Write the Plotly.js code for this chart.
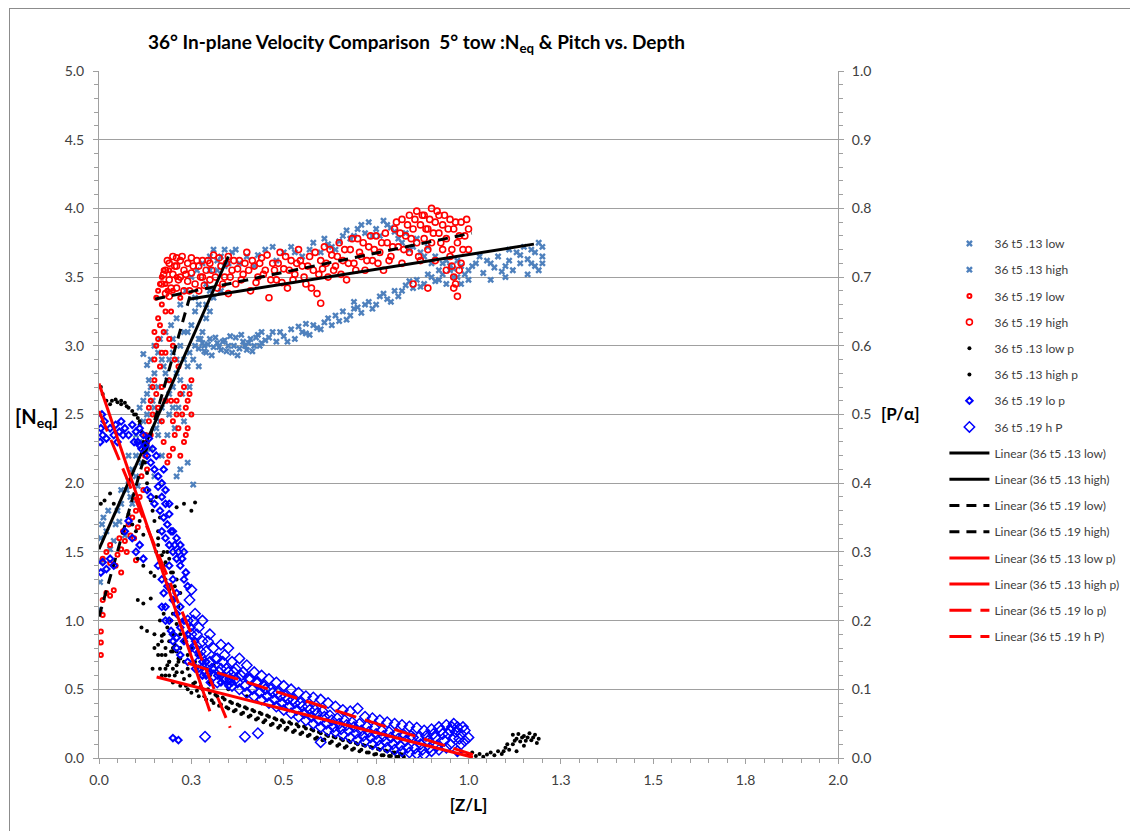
<!DOCTYPE html>
<html>
<head>
<meta charset="utf-8">
<script src="https://cdn.plot.ly/plotly-3.0.1.min.js"></script>
<style>
  html, body { margin: 0; padding: 0; background: #fff; }
  #chart { width: 1130px; height: 831px; }
  #frame { position: absolute; left: 9px; top: 8px; width: 1200px; height: 900px; border: 1px solid #8c8c8c; pointer-events: none; }
</style>
</head>
<body>
<div id="chart"></div>
<div id="frame"></div>
<script>
// ---- tick labels ----
const xTickVals = [0, 0.25, 0.5, 0.75, 1.0, 1.25, 1.5, 1.75, 2.0];
const xTickText = ['0.0', '0.3', '0.5', '0.8', '1.0', '1.3', '1.5', '1.8', '2.0'];
const yTickVals = [0, 0.5, 1.0, 1.5, 2.0, 2.5, 3.0, 3.5, 4.0, 4.5, 5.0];
const y2TickVals = [0, 0.1, 0.2, 0.3, 0.4, 0.5, 0.6, 0.7, 0.8, 0.9, 1.0];

// ---- series names ----
const seriesNames = ['36 t5 .13 low', '36 t5 .13 high', '36 t5 .19 low', '36 t5 .19 high',
                     '36 t5 .13 low p', '36 t5 .13 high p', '36 t5 .19 lo p', '36 t5 .19 h P'];

// ---- Neq vs Z/L  ([x, Neq]) ----
const s13low = [[0.003,1.08],[0.003,1.28],[0.003,1.43],[0.01,1.44],[0.005,1.6],[0.008,1.7],[0.012,1.75],[0.02,1.65],[0.025,1.8],[0.03,1.52],
 [0.04,1.58],[0.045,1.7],[0.055,1.72],[0.06,1.85],[0.07,1.62],[0.075,1.95],[0.08,2.02],[0.085,1.9],[0.09,2.1],[0.1,2.05],
 [0.1,2.2],[0.105,1.98],[0.11,2.3],[0.115,2.15],[0.12,2.45],[0.12,2.6],[0.12,2.94],[0.125,2.35],[0.13,2.5],[0.13,2.86],[0.135,2.75],[0.14,2.9],
 [0.14,2.25],[0.145,2.6],[0.15,2.8],[0.15,3.0],[0.15,2.05],[0.155,2.4],[0.16,2.95],[0.16,2.7],[0.165,3.05],[0.17,2.55],[0.17,2.2],[0.175,2.85],
 [0.18,2.6],[0.18,3.1],[0.185,2.35],[0.19,2.9],[0.19,2.5],[0.195,3.15],[0.2,2.7],[0.2,2.95],[0.205,2.4],[0.21,3.2],[0.21,2.8],[0.21,2.05],
 [0.215,2.55],[0.22,3.0],[0.22,3.3],[0.22,2.1],[0.225,2.65],[0.23,2.9],[0.235,3.4],[0.24,2.15],[0.24,3.1],[0.245,2.7],[0.25,3.5],[0.255,1.99],
 [0.255,2.9],[0.26,3.25],[0.265,3.55],[0.27,3.05],[0.27,2.85],[0.28,3.6],[0.285,3.0],[0.29,3.2],[0.3,3.65],[0.3,3.4],[0.31,3.7],[0.32,3.55],
 [0.33,3.65],[0.34,3.7],[0.35,3.6],[0.11,2.55],[0.165,2.45],[0.185,2.75],[0.2,3.05],[0.23,2.45],[0.245,2.95],[0.26,3.35],
 [0.13,2.65],[0.14,2.7],[0.15,2.55],[0.16,2.35],[0.17,2.9],[0.18,2.8],[0.19,2.65],[0.2,2.55],[0.21,2.9],[0.22,2.75],[0.23,3.1],
 [0.24,2.85],[0.25,3.15],[0.26,3.0],[0.27,3.3],[0.28,3.1],[0.29,3.45],[0.3,3.25],[0.06,1.95],[0.08,2.2],[0.1,2.35],[0.09,1.85],[0.05,1.8]];

const s13high = [[0.27,2.98],[0.28,3.02],[0.29,2.95],[0.3,3.05],[0.31,2.99],[0.32,3.02],[0.33,2.97],[0.34,3.04],[0.35,3.0],[0.36,2.95],
 [0.37,3.06],[0.38,2.98],[0.39,3.03],[0.4,2.97],[0.41,3.05],[0.42,3.0],[0.43,3.08],[0.44,3.02],[0.45,3.04],[0.47,3.1],[0.48,3.03],
 [0.5,3.07],[0.52,3.12],[0.53,3.05],[0.55,3.1],[0.57,3.08],[0.58,3.15],[0.6,3.12],[0.62,3.2],[0.63,3.15],[0.65,3.18],[0.66,3.25],
 [0.68,3.22],[0.7,3.28],[0.71,3.24],[0.73,3.32],[0.75,3.3],[0.76,3.36],[0.78,3.34],[0.8,3.4],[0.81,3.36],[0.83,3.44],[0.85,3.42],
 [0.86,3.48],[0.88,3.45],[0.9,3.5],[0.91,3.47],[0.93,3.52],[0.95,3.55],[0.97,3.5],[0.98,3.58],[1.0,3.55],[1.02,3.6],[1.04,3.53],
 [1.05,3.62],[1.07,3.57],[1.08,3.65],[1.1,3.58],[1.11,3.62],[1.12,3.55],[1.13,3.68],[1.14,3.6],[1.15,3.72],[1.16,3.63],[1.17,3.7],
 [1.18,3.58],[1.19,3.75],[1.2,3.65],[1.2,3.6],[1.19,3.55],[1.16,3.52],[1.1,3.5],[1.06,3.48],
 [0.3,3.55],[0.32,3.62],[0.34,3.58],[0.36,3.68],[0.38,3.6],[0.4,3.65],[0.42,3.58],[0.45,3.7],[0.48,3.62],[0.5,3.68],[0.52,3.72],
 [0.55,3.65],[0.58,3.75],[0.6,3.68],[0.62,3.74],[0.64,3.7],[0.66,3.8],[0.68,3.78],[0.7,3.85],[0.72,3.82],[0.73,3.9],[0.75,3.85],
 [0.76,3.8],[0.77,3.91],[0.78,3.88],[0.8,3.83],[0.82,3.75],[0.84,3.7],[0.86,3.78],[0.88,3.65],[0.9,3.6],[0.92,3.55],[0.94,3.62],
 [0.96,3.5],[0.98,3.45],[1.0,3.48],[0.31,3.35],[0.33,3.4],[0.29,3.3],[0.44,3.1],[0.56,3.16],[0.69,3.32],
 [0.275,3.05],[0.285,2.96],[0.295,3.01],[0.305,2.93],[0.315,3.06],[0.325,2.99],[0.335,3.03],[0.345,2.96],[0.355,3.07],[0.365,3.0],
 [0.375,2.93],[0.385,3.08],[0.395,3.0],[0.405,3.02],[0.415,2.96],[0.425,3.06],[0.435,3.0],[0.46,3.06],[0.49,3.1],[0.51,3.03],
 [0.54,3.14],[0.56,3.09],[0.59,3.13],[0.61,3.17],[0.64,3.22],[0.67,3.19],[0.69,3.27],[0.72,3.3],[0.74,3.27],[0.77,3.38],[0.79,3.32],
 [0.82,3.4],[0.84,3.47],[0.87,3.43],[0.89,3.52],[0.92,3.48],[0.94,3.45],[0.96,3.56],[0.99,3.52],[1.01,3.58],[1.03,3.65],[1.06,3.6],
 [1.09,3.54],[1.11,3.7],[1.14,3.66],[1.17,3.6],[1.18,3.68],[1.2,3.72],
 [0.35,3.6],[0.37,3.7],[0.43,3.66],[0.47,3.72],[0.53,3.68],[0.57,3.7],[0.61,3.78],[0.63,3.72],[0.65,3.76],[0.67,3.84],[0.69,3.8],
 [0.71,3.88],[0.74,3.8],[0.79,3.86],[0.81,3.78],[0.83,3.82],[0.85,3.72],[0.87,3.68],[0.89,3.72],[0.91,3.65],[0.93,3.6],[0.95,3.58],[0.97,3.62]];

const s19low = [[0.005,0.75],[0.005,0.84],[0.005,0.92],[0.01,1.04],[0.01,1.15],[0.02,1.2],[0.03,1.18],[0.04,1.22],[0.01,1.45],[0.02,1.5],
 [0.03,1.55],[0.045,1.4],[0.05,1.48],[0.055,1.6],[0.06,1.52],[0.065,1.65],[0.07,1.58],[0.08,1.7],[0.085,1.62],[0.09,1.75],[0.1,1.44],
 [0.1,1.8],[0.105,1.68],[0.11,1.9],[0.115,2.05],[0.12,1.95],[0.125,2.2],[0.13,2.3],[0.13,2.1],[0.135,2.45],[0.14,2.35],[0.14,2.6],
 [0.145,2.5],[0.15,2.75],[0.15,2.9],[0.155,2.65],[0.16,3.05],[0.16,3.2],[0.165,2.85],[0.17,2.45],[0.17,3.3],[0.175,3.1],[0.175,2.3],
 [0.18,2.6],[0.18,2.95],[0.185,3.4],[0.19,2.2],[0.19,2.75],[0.195,3.25],[0.2,2.45],[0.2,3.0],[0.205,2.35],[0.21,2.6],[0.21,3.5],
 [0.215,2.85],[0.22,2.2],[0.22,3.35],[0.225,2.5],[0.23,2.3],[0.23,2.7],[0.235,2.55],[0.24,2.4],[0.245,2.65],[0.25,2.75],[0.25,2.5],
 [0.165,3.45],[0.175,3.55],[0.185,2.15],[0.2,2.25],[0.215,2.4],[0.155,3.35],[0.17,2.7],[0.16,2.55],
 [0.155,3.0],[0.165,3.15],[0.17,2.95],[0.18,3.25],[0.19,3.05],[0.195,2.6],[0.205,2.9],[0.21,2.5],[0.22,2.65],[0.235,2.35],[0.24,2.6],
 [0.145,2.7],[0.135,2.55],[0.125,2.35],[0.15,3.1],[0.16,3.4],[0.17,3.5],[0.2,3.4],[0.19,3.55],[0.18,3.45],[0.03,1.42],[0.06,1.35],
 [0.075,1.5],[0.095,1.6]];

const s19high = [[0.17,3.45],[0.18,3.55],[0.18,3.38],[0.19,3.6],[0.19,3.48],[0.2,3.52],[0.2,3.65],[0.21,3.42],[0.21,3.58],[0.22,3.5],
 [0.22,3.62],[0.23,3.55],[0.23,3.4],[0.24,3.6],[0.24,3.47],[0.25,3.53],[0.25,3.64],[0.26,3.45],[0.27,3.58],[0.28,3.5],[0.28,3.62],
 [0.29,3.55],[0.3,3.48],[0.3,3.6],[0.31,3.66],[0.32,3.42],[0.33,3.58],[0.34,3.5],[0.35,3.65],[0.36,3.55],[0.37,3.45],[0.38,3.62],
 [0.39,3.52],[0.4,3.68],[0.41,3.4],[0.42,3.58],[0.43,3.5],[0.44,3.64],[0.45,3.55],[0.46,3.35],[0.47,3.6],[0.48,3.48],[0.49,3.68],
 [0.5,3.56],[0.51,3.42],[0.52,3.62],[0.53,3.52],[0.54,3.7],[0.55,3.58],[0.56,3.45],[0.57,3.65],[0.58,3.55],[0.59,3.38],[0.6,3.62],
 [0.6,3.31],[0.61,3.72],[0.62,3.5],[0.63,3.66],[0.64,3.58],[0.65,3.75],[0.66,3.62],[0.67,3.48],[0.68,3.7],[0.69,3.6],[0.7,3.78],
 [0.71,3.65],[0.72,3.55],[0.73,3.72],[0.74,3.62],[0.75,3.8],[0.76,3.68],[0.77,3.55],[0.78,3.75],[0.79,3.65],[0.8,3.85],
 [0.81,3.72],[0.82,3.92],[0.82,3.6],[0.83,3.8],[0.84,3.95],[0.84,3.68],[0.85,3.85],[0.86,3.75],[0.86,3.98],[0.87,3.62],[0.87,3.88],
 [0.88,3.78],[0.88,3.95],[0.89,3.7],[0.89,3.85],[0.9,4.0],[0.9,3.75],[0.91,3.9],[0.91,3.62],[0.92,3.82],[0.92,3.95],[0.93,3.7],
 [0.93,3.88],[0.94,3.78],[0.94,3.55],[0.95,3.92],[0.95,3.65],[0.96,3.85],[0.96,3.5],[0.96,3.42],[0.97,3.75],[0.97,3.36],[0.98,3.9],
 [0.98,3.6],[0.99,3.8],[1.0,3.7],[1.0,3.85],[0.89,3.42],[0.85,3.45],[0.19,3.36],[0.21,3.64],[0.27,3.4],[0.35,3.38],
 [0.175,3.52],[0.185,3.62],[0.195,3.42],[0.205,3.58],[0.215,3.48],[0.225,3.65],[0.235,3.52],[0.245,3.4],[0.255,3.58],[0.265,3.62],
 [0.275,3.5],[0.285,3.44],[0.295,3.62],[0.305,3.55],[0.315,3.5],[0.325,3.64],[0.335,3.45],[0.345,3.6],[0.355,3.5],[0.365,3.62],
 [0.375,3.56],[0.385,3.48],[0.395,3.6],[0.405,3.55],[0.415,3.62],[0.425,3.46],[0.435,3.6],[0.445,3.52],[0.455,3.66],[0.465,3.48],
 [0.475,3.55],[0.485,3.6],[0.495,3.46],[0.505,3.65],[0.515,3.55],[0.525,3.48],[0.535,3.6],[0.545,3.62],[0.555,3.5],[0.565,3.58],
 [0.575,3.42],[0.585,3.68],[0.595,3.52],[0.605,3.56],[0.615,3.6],[0.625,3.7],[0.635,3.55],[0.645,3.65],[0.655,3.52],[0.665,3.7],
 [0.675,3.6],[0.685,3.78],[0.695,3.55],[0.705,3.68],[0.715,3.75],[0.725,3.62],[0.735,3.8],[0.745,3.7],[0.755,3.6],[0.765,3.75],
 [0.775,3.82],[0.785,3.62],[0.795,3.72],[0.805,3.9],[0.815,3.82],[0.825,3.7],[0.835,3.88],[0.845,3.78],[0.855,3.92],[0.865,3.65],
 [0.875,3.95],[0.885,3.85],[0.895,3.92],[0.905,3.82],[0.915,3.98],[0.925,3.75],[0.935,3.95],[0.945,3.85],[0.955,3.7],[0.965,3.9],
 [0.975,3.8],[0.985,3.7],[0.995,3.92],[0.965,3.45],[0.975,3.55],[0.955,3.58]];

// ---- Pitch vs Z/L  ([x, P/alpha]) ----
const s13lowP = [[0.005,0.54],[0.01,0.53],[0.02,0.52],[0.03,0.515],[0.035,0.52],[0.045,0.522],[0.05,0.518],[0.06,0.515],[0.07,0.517],
 [0.08,0.51],[0.09,0.505],[0.1,0.5],[0.105,0.495],[0.11,0.485],[0.115,0.475],[0.12,0.46],[0.12,0.445],[0.125,0.43],[0.13,0.415],
 [0.13,0.4],[0.135,0.39],[0.14,0.375],[0.145,0.36],[0.15,0.345],[0.155,0.38],[0.16,0.33],[0.165,0.35],
 [0.005,0.37],[0.015,0.375],[0.03,0.385],[0.04,0.37],[0.08,0.355],[0.09,0.34],[0.1,0.33],[0.11,0.345],[0.12,0.325],
 [0.21,0.365],[0.23,0.37],[0.25,0.36],[0.26,0.372],
 [0.105,0.29],[0.12,0.28],[0.14,0.27],[0.15,0.265],[0.105,0.23],[0.12,0.225],[0.14,0.232],[0.115,0.19],[0.13,0.185],[0.15,0.18],
 [0.17,0.178],[0.16,0.31],[0.17,0.295],[0.175,0.28],[0.18,0.26],[0.185,0.3],[0.19,0.245],[0.195,0.27],[0.2,0.23],[0.2,0.21],
 [0.205,0.25],[0.21,0.195],[0.215,0.22],[0.22,0.18],[0.225,0.2],[0.16,0.165],[0.17,0.15],[0.18,0.16],[0.19,0.14],[0.2,0.155],
 [0.21,0.135],[0.145,0.13],[0.15,0.16],[0.23,0.17],[0.24,0.15],[0.25,0.16],[0.26,0.14],[0.27,0.15],[0.28,0.13],[0.3,0.12],[0.31,0.135],
 [0.165,0.2],[0.175,0.21],[0.185,0.19],[0.195,0.2],[0.19,0.17],[0.2,0.18],[0.205,0.165],[0.21,0.155],[0.22,0.16],[0.215,0.145],
 [0.23,0.14],[0.18,0.13],[0.19,0.12],[0.2,0.13],[0.17,0.12],[0.06,0.52],[0.075,0.512],[0.095,0.5],[0.11,0.49],[0.155,0.3],
 [0.16,0.32],[0.175,0.3],[0.18,0.285],[0.19,0.29],[0.2,0.27],[0.21,0.26],[0.22,0.24]];

const s13highP = [[0.17,0.17],[0.18,0.15],[0.18,0.12],[0.19,0.14],[0.2,0.11],[0.2,0.16],[0.21,0.125],[0.22,0.105],[0.22,0.145],
 [0.23,0.115],[0.24,0.1],[0.24,0.13],[0.25,0.095],[0.26,0.11],[0.27,0.09],[0.28,0.1],[0.29,0.085],[0.3,0.095],[0.31,0.08],[0.32,0.09],
 [0.33,0.078],[0.34,0.085],[0.35,0.072],[0.36,0.08],[0.37,0.07],[0.38,0.076],[0.39,0.066],[0.4,0.072],[0.41,0.062],[0.42,0.068],
 [0.43,0.058],[0.44,0.064],[0.45,0.055],[0.46,0.06],[0.47,0.05],[0.48,0.056],[0.49,0.047],[0.5,0.052],[0.51,0.044],[0.52,0.05],
 [0.53,0.04],[0.54,0.046],[0.55,0.037],[0.56,0.043],[0.57,0.034],[0.58,0.04],[0.59,0.03],[0.6,0.036],[0.61,0.027],[0.62,0.032],
 [0.63,0.024],[0.64,0.03],[0.65,0.02],[0.66,0.026],[0.67,0.017],[0.68,0.023],[0.69,0.014],[0.7,0.02],[0.71,0.012],[0.72,0.018],
 [0.73,0.008],[0.74,0.015],[0.75,0.006],[0.76,0.012],[0.77,0.004],[0.78,0.01],[0.79,0.003],[0.8,0.008],[0.81,0.002],[0.82,0.005],
 [0.97,0.005],[0.98,0.01],[1.0,0.004],[1.01,0.008],[1.02,0.003],[1.03,0.006],[1.04,0.002],[1.05,0.005],[1.06,0.008],[1.07,0.004],
 [1.08,0.01],[1.09,0.006],[1.1,0.015],[1.11,0.012],[1.12,0.02],[1.13,0.028],[1.14,0.024],[1.15,0.032],[1.16,0.03],[1.17,0.026],
 [1.18,0.034],[1.15,0.018],[1.13,0.01],[1.12,0.034],[0.3,0.11],[0.35,0.1],[0.4,0.09],
 [0.16,0.15],[0.165,0.13],[0.175,0.18],[0.185,0.135],[0.195,0.155],[0.205,0.12],[0.215,0.14],[0.225,0.125],[0.235,0.105],
 [0.245,0.12],[0.255,0.108],[0.265,0.098],[0.275,0.104],[0.285,0.09],[0.295,0.1],[0.305,0.084],[0.315,0.092],[0.325,0.076],
 [0.335,0.088],[0.345,0.074],[0.355,0.082],[0.365,0.068],[0.375,0.078],[0.385,0.064],[0.395,0.074],[0.405,0.06],[0.415,0.07],
 [0.425,0.056],[0.435,0.066],[0.445,0.052],[0.455,0.062],[0.465,0.048],[0.475,0.058],[0.485,0.044],[0.495,0.055],[0.505,0.041],
 [0.515,0.052],[0.525,0.038],[0.535,0.049],[0.545,0.035],[0.555,0.046],[0.565,0.032],[0.575,0.042],[0.585,0.028],[0.595,0.038],
 [0.605,0.026],[0.615,0.034],[0.625,0.022],[0.635,0.031],[0.645,0.018],[0.655,0.028],[0.665,0.015],[0.675,0.025],[0.685,0.012],
 [0.695,0.022],[0.705,0.01],[0.715,0.019],[0.725,0.008],[0.735,0.016],[0.745,0.005],[0.755,0.013],[0.765,0.004],[0.775,0.011],
 [0.785,0.003],[0.795,0.008],[0.805,0.002],[0.815,0.006],[0.825,0.002],
 [1.095,0.01],[1.105,0.02],[1.125,0.025],[1.135,0.035],[1.145,0.03],[1.155,0.025],[1.165,0.036],[1.175,0.03],[1.185,0.022],[1.19,0.028]];

const s19loP = [[0.003,0.46],[0.005,0.48],[0.008,0.5],[0.01,0.47],[0.015,0.49],[0.02,0.465],[0.03,0.48],[0.04,0.47],[0.045,0.485],
 [0.055,0.475],[0.06,0.49],[0.07,0.48],[0.08,0.47],[0.09,0.485],[0.1,0.475],[0.105,0.46],[0.11,0.48],[0.115,0.45],[0.12,0.47],
 [0.125,0.455],[0.13,0.44],[0.135,0.465],[0.14,0.43],[0.145,0.45],[0.15,0.42],[0.155,0.44],[0.16,0.41],[0.13,0.39],[0.14,0.38],
 [0.15,0.37],[0.16,0.395],[0.165,0.36],[0.17,0.38],[0.175,0.35],[0.18,0.37],[0.185,0.34],[0.19,0.355],[0.17,0.33],[0.18,0.32],
 [0.19,0.31],[0.2,0.33],[0.2,0.3],[0.21,0.32],[0.21,0.29],[0.22,0.31],[0.22,0.28],[0.23,0.3],[0.235,0.27],[0.16,0.28],[0.17,0.26],
 [0.175,0.24],[0.18,0.22],[0.185,0.25],[0.19,0.2],[0.2,0.23],[0.2,0.18],[0.21,0.21],[0.21,0.16],[0.22,0.19],[0.22,0.15],[0.23,0.17],
 [0.24,0.14],[0.25,0.16],[0.26,0.13],[0.27,0.15],[0.28,0.12],[0.29,0.14],[0.3,0.11],[0.31,0.13],[0.32,0.12],[0.33,0.11],
 [0.34,0.115],[0.35,0.105],[0.36,0.11],[0.005,0.27],[0.01,0.285],[0.02,0.275],[0.03,0.29],[0.04,0.28],[0.07,0.33],[0.08,0.345],
 [0.09,0.32],[0.1,0.3],[0.11,0.31],[0.12,0.29],[0.2,0.029],[0.215,0.026],
 [0.17,0.4],[0.175,0.42],[0.18,0.39],[0.19,0.37],[0.195,0.33],[0.205,0.31],[0.215,0.3],[0.225,0.29],[0.23,0.26],[0.24,0.25],
 [0.19,0.28],[0.2,0.26],[0.21,0.24],[0.22,0.22],[0.23,0.2],[0.24,0.18],[0.25,0.19],[0.26,0.17],[0.27,0.13],[0.28,0.14],[0.29,0.12],
 [0.3,0.125],[0.17,0.22],[0.18,0.2],[0.195,0.185],[0.2,0.17],[0.21,0.175],[0.05,0.46],[0.065,0.47],[0.095,0.46],[0.11,0.455]];

const s19hP = [[0.24,0.2],[0.245,0.23],[0.25,0.18],[0.25,0.245],[0.26,0.21],[0.26,0.16],[0.27,0.19],[0.27,0.14],[0.28,0.17],[0.28,0.2],
 [0.29,0.155],[0.29,0.125],[0.3,0.18],[0.3,0.14],[0.31,0.16],[0.31,0.12],[0.32,0.145],[0.32,0.11],[0.33,0.165],[0.33,0.13],
 [0.34,0.15],[0.34,0.115],[0.35,0.16],[0.35,0.125],[0.36,0.14],[0.36,0.105],[0.37,0.13],[0.37,0.115],[0.38,0.145],[0.38,0.1],
 [0.39,0.125],[0.4,0.135],[0.4,0.095],[0.41,0.115],[0.42,0.125],[0.42,0.09],[0.43,0.11],[0.44,0.12],[0.44,0.085],[0.45,0.1],
 [0.46,0.115],[0.46,0.08],[0.47,0.095],[0.48,0.11],[0.48,0.075],[0.49,0.09],[0.5,0.105],[0.5,0.07],[0.51,0.085],[0.52,0.1],
 [0.52,0.065],[0.53,0.08],[0.54,0.095],[0.54,0.06],[0.55,0.075],[0.56,0.09],[0.56,0.055],[0.57,0.07],[0.58,0.088],[0.58,0.05],
 [0.59,0.065],[0.6,0.085],[0.6,0.045],[0.61,0.06],[0.62,0.08],[0.62,0.04],[0.63,0.055],[0.64,0.075],[0.64,0.038],[0.65,0.05],
 [0.66,0.07],[0.66,0.034],[0.67,0.048],[0.68,0.068],[0.68,0.03],[0.69,0.045],[0.7,0.072],[0.7,0.027],[0.71,0.04],[0.72,0.06],
 [0.72,0.024],[0.73,0.038],[0.74,0.058],[0.74,0.02],[0.75,0.035],[0.76,0.055],[0.76,0.018],[0.77,0.032],[0.78,0.052],[0.78,0.015],
 [0.79,0.03],[0.8,0.05],[0.8,0.012],[0.81,0.028],[0.82,0.048],[0.82,0.01],[0.83,0.025],[0.84,0.046],[0.84,0.008],[0.85,0.03],
 [0.86,0.044],[0.86,0.006],[0.87,0.02],[0.88,0.04],[0.88,0.005],[0.89,0.025],[0.9,0.042],[0.9,0.01],[0.91,0.03],[0.92,0.045],
 [0.92,0.012],[0.93,0.035],[0.94,0.048],[0.94,0.015],[0.95,0.04],[0.95,0.02],[0.96,0.05],[0.96,0.03],[0.97,0.045],[0.97,0.01],
 [0.98,0.035],[0.98,0.02],[0.99,0.04],[1.0,0.03],[0.287,0.031],[0.395,0.031],[0.43,0.036],[0.6,0.023],
 [0.245,0.17],[0.255,0.2],[0.265,0.18],[0.275,0.155],[0.285,0.14],[0.295,0.17],[0.305,0.13],[0.315,0.145],[0.325,0.125],[0.335,0.14],
 [0.345,0.13],[0.355,0.115],[0.365,0.125],[0.375,0.11],[0.385,0.12],[0.395,0.105],[0.405,0.115],[0.415,0.1],[0.425,0.11],
 [0.435,0.095],[0.445,0.105],[0.455,0.09],[0.465,0.1],[0.475,0.085],[0.485,0.095],[0.495,0.08],[0.505,0.09],[0.515,0.075],
 [0.525,0.085],[0.535,0.07],[0.545,0.08],[0.555,0.065],[0.565,0.075],[0.575,0.06],[0.585,0.07],[0.595,0.055],[0.605,0.068],
 [0.615,0.05],[0.625,0.062],[0.635,0.045],[0.645,0.058],[0.655,0.042],[0.665,0.055],[0.675,0.04],[0.685,0.052],[0.695,0.036],
 [0.705,0.05],[0.715,0.032],[0.725,0.046],[0.735,0.03],[0.745,0.044],[0.755,0.026],[0.765,0.04],[0.775,0.024],[0.785,0.038],
 [0.795,0.02],[0.805,0.036],[0.815,0.018],[0.825,0.034],[0.835,0.015],[0.845,0.032],[0.855,0.014],[0.865,0.03],[0.875,0.012],
 [0.885,0.032],[0.895,0.015],[0.905,0.035],[0.915,0.018],[0.925,0.04],[0.935,0.025],[0.945,0.035],[0.955,0.045],[0.965,0.038],
 [0.975,0.028],[0.985,0.045],[0.99,0.025]];

// ---- linear trendline end points ([x0, x1], [y0, y1]) ----
const trend13lowX = [0, 0.35],      trend13lowY = [1.52, 3.65];
const trend13highX = [0.246, 1.177], trend13highY = [3.34, 3.74];
const trend19lowX = [0, 0.246],     trend19lowY = [1.03, 3.36];
const trend19highX = [0.152, 1.009], trend19highY = [3.34, 3.82];
const trend13lowPX = [0, 0.3],      trend13lowPY = [0.545, 0.068];
const trend13highPX = [0.156, 1.012], trend13highPY = [0.118, 0.001];
const trend19loPX = [0, 0.355],     trend19loPY = [0.505, 0.044];
const trend19hPX = [0.24, 1.012],   trend19hPY = [0.138, 0.005];

const xs = a => a.map(p => p[0]);
const ys = a => a.map(p => p[1]);

const blue = '#4F81BD', red = '#FF0000', black = '#000000', pure = '#0000FF';
let gi = 0;
function sc(name, arr, axis, marker) {
  gi++;
  return {type: 'scatter', mode: 'markers', name: name, x: xs(arr), y: ys(arr), yaxis: axis,
          marker: marker, legendgroup: 'g' + gi, cliponaxis: true};
}
function tl(name, xa, ya, axis, color, dash) {
  gi++;
  return {type: 'scatter', mode: 'lines', name: name, x: xa, y: ya, yaxis: axis,
          line: {color: color, width: 3, dash: dash}, legendgroup: 'g' + gi};
}

const data = [
  sc(seriesNames[0], s13low, 'y', {symbol: 'x', size: 6, color: blue}),
  sc(seriesNames[1], s13high, 'y', {symbol: 'x', size: 6, color: blue}),
  sc(seriesNames[2], s19low, 'y', {symbol: 'circle-open', size: 4, color: red, line: {width: 2, color: red}}),
  sc(seriesNames[3], s19high, 'y', {symbol: 'circle-open', size: 6, color: red, line: {width: 1.6, color: red}}),
  sc(seriesNames[4], s13lowP, 'y2', {symbol: 'circle', size: 4, color: black}),
  sc(seriesNames[5], s13highP, 'y2', {symbol: 'circle', size: 4, color: black}),
  sc(seriesNames[6], s19loP, 'y2', {symbol: 'diamond-open', size: 5, color: pure, line: {width: 2, color: pure}}),
  sc(seriesNames[7], s19hP, 'y2', {symbol: 'diamond-open', size: 8, color: pure, line: {width: 1.5, color: pure}}),
  tl('Linear (' + seriesNames[0] + ')', trend13lowX, trend13lowY, 'y', black, 'solid'),
  tl('Linear (' + seriesNames[1] + ')', trend13highX, trend13highY, 'y', black, 'solid'),
  tl('Linear (' + seriesNames[2] + ')', trend19lowX, trend19lowY, 'y', black, '10px,7px'),
  tl('Linear (' + seriesNames[3] + ')', trend19highX, trend19highY, 'y', black, '10px,7px'),
  tl('Linear (' + seriesNames[4] + ')', trend13lowPX, trend13lowPY, 'y2', red, 'solid'),
  tl('Linear (' + seriesNames[5] + ')', trend13highPX, trend13highPY, 'y2', red, 'solid'),
  tl('Linear (' + seriesNames[6] + ')', trend19loPX, trend19loPY, 'y2', red, '22px,9px'),
  tl('Linear (' + seriesNames[7] + ')', trend19hPX, trend19hPY, 'y2', red, '22px,9px')
];

const tickFont = {family: 'Lato, "Liberation Sans", sans-serif', size: 14, color: '#404040'};
const axisCol = '#a0a0a0';

const layout = {
  width: 1130, height: 831,
  margin: {l: 99, r: 292, t: 71, b: 73, autoexpand: false},
  paper_bgcolor: '#ffffff', plot_bgcolor: '#ffffff',
  font: {family: 'Lato, "Liberation Sans", sans-serif', color: '#000'},
  title: {text: '<b>36° In-plane Velocity Comparison  5° tow :N<sub>eq</sub> & Pitch vs. Depth</b>',
          x: 148 / 1130, xanchor: 'left', xref: 'container', y: 1 - 42 / 831, yanchor: 'middle', yref: 'container',
          font: {size: 19, color: '#000', family: 'Lato, "Liberation Sans", sans-serif'}},
  showlegend: true,
  legend: {x: 1.144, xanchor: 'left', y: 0.77, yanchor: 'top', traceorder: 'grouped', tracegroupgap: 7.2,
           font: {size: 12, color: '#404040', family: 'Lato, "Liberation Sans", sans-serif'},
           bgcolor: 'rgba(0,0,0,0)', itemwidth: 40},
  xaxis: {range: [0, 2.0], tickvals: xTickVals, ticktext: xTickText, showgrid: false, zeroline: false,
          showline: true, linecolor: axisCol, linewidth: 1, ticks: 'outside', ticklen: 5, tickcolor: axisCol,
          tickfont: tickFont, ticklabelstandoff: 4,
          minor: {dtick: 0.05, ticks: 'outside', ticklen: 4, tickcolor: axisCol, showgrid: false},
          title: {text: '<b>[Z/L]</b>', font: {size: 17, color: '#000'}, standoff: 12}},
  yaxis: {range: [0, 5.0], tickvals: yTickVals, tickformat: '.1f', showgrid: true, gridcolor: axisCol, gridwidth: 1,
          zeroline: false, showline: true, linecolor: axisCol, linewidth: 1, ticks: 'outside', ticklen: 5,
          tickcolor: axisCol, tickfont: tickFont, ticklabelstandoff: 6,
          minor: {dtick: 0.1, ticks: 'outside', ticklen: 4, tickcolor: axisCol, showgrid: false}},
  yaxis2: {range: [0, 1.0], tickvals: y2TickVals, tickformat: '.1f', overlaying: 'y', side: 'right',
           showgrid: false, zeroline: false, showline: true, linecolor: axisCol, linewidth: 1, ticks: 'outside',
           ticklen: 5, tickcolor: axisCol, tickfont: tickFont, ticklabelstandoff: 5,
           minor: {dtick: 0.02, ticks: 'outside', ticklen: 4, tickcolor: axisCol, showgrid: false}},
  annotations: [
    {text: '<b>[N<sub>eq</sub>]</b>', xref: 'paper', yref: 'paper', x: -0.085, y: (758 - 417) / 687,
     xanchor: 'center', yanchor: 'middle', showarrow: false, font: {size: 20, color: '#000'}},
    {text: '<b>[P/α]</b>', xref: 'paper', yref: 'paper', x: (900 - 99) / 739, y: (758 - 413) / 687,
     xanchor: 'center', yanchor: 'middle', showarrow: false, font: {size: 17, color: '#000'}}
  ]
};

Plotly.newPlot('chart', data, layout, {staticPlot: true, displayModeBar: false});
</script>
</body>
</html>
